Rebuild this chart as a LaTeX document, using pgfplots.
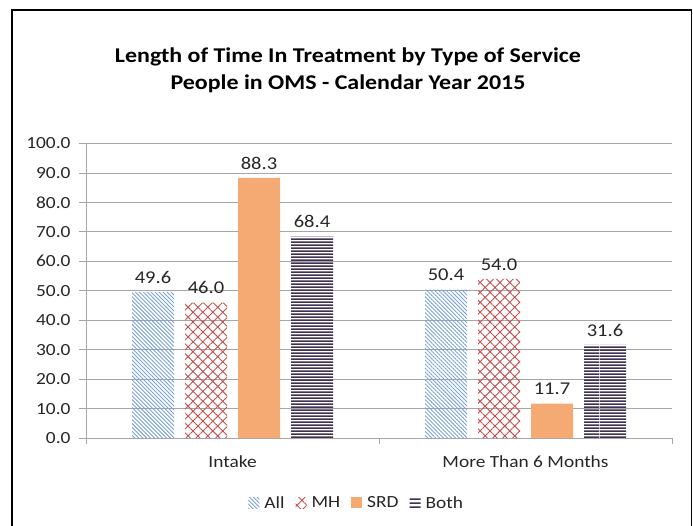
\documentclass[border=0pt]{standalone}
\usepackage{fontspec}
\setmainfont{Carlito}[FakeStretch=1.14]
\usepackage{pgfplots}
\pgfplotsset{compat=1.18}
\usetikzlibrary{patterns.meta}
\definecolor{allc}{RGB}{120,160,215}
\definecolor{mhc}{RGB}{192,80,77}
\definecolor{srdc}{RGB}{245,170,115}
\definecolor{bothc}{RGB}{63,49,81}
\definecolor{gridc}{RGB}{166,166,166}
\definecolor{txt}{RGB}{38,38,38}
\pgfdeclarepatternformonly{bothlines}{\pgfpointorigin}{\pgfpoint{200pt}{3.4pt}}{\pgfpoint{200pt}{3.4pt}}{%
  \pgfpathrectangle{\pgfpointorigin}{\pgfpoint{200pt}{1.8pt}}\pgfusepath{fill}}
\begin{document}
\begin{tikzpicture}
\useasboundingbox (0,0) rectangle (693pt,525pt);
\draw[line width=1.6pt] (12pt,-5pt) -- (12pt,515pt) -- (691.5pt,515pt) -- (691.5pt,-5pt);
\node[align=center, font=\fontsize{21}{27}\selectfont\bfseries, text=black] at (348pt,455pt)
  {Length of Time In Treatment by Type of Service\\People in OMS - Calendar Year 2015};
\begin{axis}[
  at={(86pt,87pt)}, anchor=south west,
  scale only axis, width=586pt, height=294.5pt,
  xmin=0, xmax=2, ymin=0, ymax=100,
  ybar=11pt, bar width=42pt,
  xtick={0.5,1.5}, xticklabels={Intake, More Than 6 Months},
  major x tick style={draw=none},
  minor xtick={0,1,2},
  minor tick length=6pt,
  ytick={0,10,...,100},
  tick align=outside, major tick length=7pt,
  axis x line*=bottom, axis y line*=left,
  axis line style={gridc, line width=0.8pt},
  tick style={gridc, line width=0.8pt},
  ymajorgrids, grid style={gridc, line width=0.8pt},
  /pgf/number format/assume math mode=true,
  yticklabel style={/pgf/number format/.cd, fixed, fixed zerofill, precision=1, /tikz/.cd, font=\fontsize{17}{20}\selectfont, text=txt, xshift=-5pt},
  xticklabel style={font=\fontsize{17}{20}\selectfont, text=txt, yshift=-7pt},
  nodes near coords,
  nodes near coords style={/pgf/number format/.cd, fixed, fixed zerofill, precision=1, /tikz/.cd, font=\fontsize{18}{20}\selectfont, text=txt, yshift=5pt},
  legend style={at={(0.462,-0.221)}, anchor=center, draw=none, legend columns=-1,
     font=\fontsize{17}{20}\selectfont, text=txt,
     /tikz/every odd column/.append style={column sep=3pt},
     /tikz/every even column/.append style={column sep=9pt}},
  legend image code/.code={\draw[#1, draw=none] (0pt,-5pt) rectangle (11pt,6pt);},
]
\addplot[draw=none, pattern={Lines[angle=-45,distance=2.8pt,line width=0.9pt]}, pattern color=allc] coordinates {(0.5,49.6) (1.5,50.4)};
\addplot[draw=none, pattern={Hatch[angle=45,distance=7pt,line width=0.9pt]}, pattern color=mhc] coordinates {(0.5,46.0) (1.5,54.0)};
\addplot[draw=none, fill=srdc] coordinates {(0.5,88.3) (1.5,11.7)};
\addplot[draw=none, pattern=bothlines, pattern color=bothc] coordinates {(0.5,68.4) (1.5,31.6)};
\legend{All, MH, SRD, Both}
\end{axis}
\end{tikzpicture}
\end{document}
